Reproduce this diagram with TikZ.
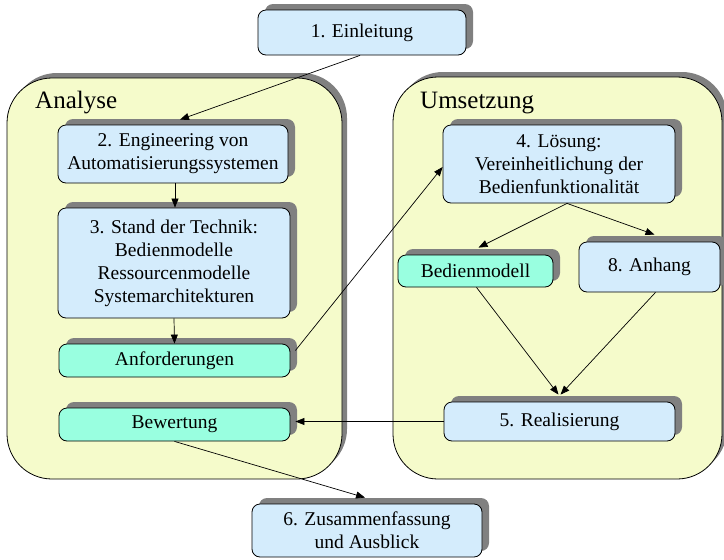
\documentclass[tikz,border=0pt]{standalone}
\usepackage{fontspec}
\setmainfont{Liberation Serif}
\usetikzlibrary{arrows.meta,shadows}
\definecolor{contfill}{HTML}{F5FBCB}
\definecolor{bluefill}{HTML}{D4ECFC}
\definecolor{mintfill}{HTML}{99FFE0}
\definecolor{shadowgray}{HTML}{808080}
\tikzset{
  container/.style={draw=black, line width=0.8pt, fill=contfill, rounded corners=45pt,
    general shadow={shadow xshift=5pt, shadow yshift=5pt, fill=shadowgray}},
  box/.style={draw=black, line width=0.8pt, rounded corners=8pt, align=center, inner sep=0pt,
    font=\fontsize{19.5pt}{23pt}\selectfont,
    general shadow={shadow xshift=7pt, shadow yshift=6pt, fill=shadowgray}},
  bluebox/.style={box, fill=bluefill},
  mintbox/.style={box, fill=mintfill},
  title/.style={font=\fontsize{25pt}{28pt}\selectfont, anchor=base west, inner sep=0pt},
  conn/.style={line width=0.7pt, -{Triangle[length=9pt,width=7pt]}}
}
\begin{document}
\begin{tikzpicture}[x=1pt,y=-1pt]
\useasboundingbox (0,0) rectangle (724,560);
% containers
\begin{scope}
\clip (0,0) rectangle (724,560);
\node[container, minimum width=335pt, minimum height=401pt, inner sep=0pt] (analyse) at (174.5,278.5) {};
\node[container, minimum width=329pt, minimum height=402pt, inner sep=0pt] (umsetzung) at (557.5,278) {};
\end{scope}
\node[title] (tA) at (35,108) {Analyse};
\node[title] (tU) at (420,108) {Umsetzung};
% boxes
\node[bluebox, minimum width=208pt, minimum height=45pt] (b1) at (362,32.5) {1. Einleitung};
\node[bluebox, minimum width=230pt, minimum height=58pt] (b2) at (173,154) {2. Engineering von\\Automatisierungssystemen};
\node[bluebox, minimum width=232pt, minimum height=110pt] (b3) at (174,263) {3. Stand der Technik:\\Bedienmodelle\\Ressourcenmodelle\\Systemarchitekturen};
\node[mintbox, minimum width=231pt, minimum height=33pt] (anf) at (174.5,360.5) {Anforderungen};
\node[mintbox, minimum width=231pt, minimum height=33pt] (bew) at (174.5,424.5) {Bewertung};
\node[bluebox, minimum width=232pt, minimum height=78pt] (b4) at (559,164) {4. Lösung:\\Vereinheitlichung der\\Bedienfunktionalität};
\node[mintbox, minimum width=155pt, minimum height=32pt] (bed) at (475.5,271) {Bedienmodell};
\begin{scope}
\clip (0,0) rectangle (724,560);
\node[bluebox, minimum width=141pt, minimum height=50pt] (anh) at (649.5,267) {8. Anhang};
\end{scope}
\node[bluebox, minimum width=231pt, minimum height=39pt] (real) at (559.5,421.5) {5. Realisierung};
\node[bluebox, minimum width=230pt, minimum height=53pt] (b6) at (367,530.5) {6. Zusammenfassung\\und Ausblick};
% connectors
\draw[conn] ([xshift=-2pt]b1.south) -- ([xshift=7pt,yshift=5pt]b2.north);
\draw[conn] ([xshift=2pt]b2.south) -- ([xshift=1pt]b3.north);
\draw[conn] (b3.south) -- (anf.north);
\draw[conn] ([xshift=5pt,yshift=10pt]anf.east) -- ([yshift=-3pt]b4.west);
\draw[conn] ([xshift=8pt]b4.south) -- ([xshift=3pt,yshift=7pt]bed.north);
\draw[conn] ([xshift=8pt]b4.south) -- ([xshift=5pt,yshift=7pt]anh.north);
\draw[conn] ([xshift=1pt]bed.south) -- ([xshift=-1pt,yshift=7pt]real.north);
\draw[conn] ([xshift=6pt]anh.south) -- ([xshift=1pt,yshift=7pt]real.north);
\draw[conn] (real.west) -- ([xshift=5pt,yshift=3pt]bew.east);
\draw[conn] (bew.south) -- ([xshift=-2pt,yshift=6pt]b6.north);
\end{tikzpicture}
\end{document}
